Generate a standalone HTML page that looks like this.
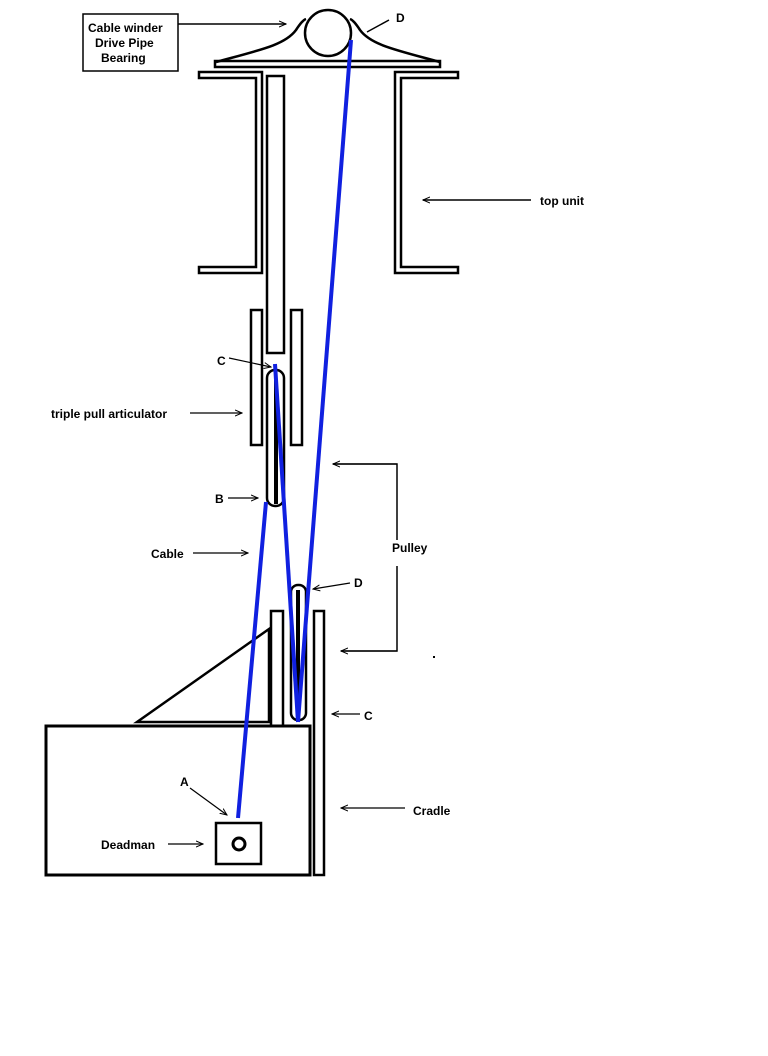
<!DOCTYPE html>
<html><head><meta charset="utf-8"><style>
html,body{margin:0;padding:0;background:#fff;}
svg{display:block;}
text{font-family:"Liberation Sans",Arial,sans-serif;font-weight:bold;font-size:12px;fill:#000;}
</style></head><body>
<svg width="768" height="1056" viewBox="0 0 768 1056" xmlns="http://www.w3.org/2000/svg">
<defs>
<marker id="ah" markerWidth="8" markerHeight="8" refX="7" refY="4" orient="auto" markerUnits="userSpaceOnUse">
<path d="M0,1 L7,4 L0,7" fill="none" stroke="#000" stroke-width="1"/>
</marker>
</defs>
<g fill="none" stroke="#000" stroke-width="2">
<!-- label box -->
<rect x="83" y="14" width="95" height="57" stroke-width="1.5"/>
<line x1="178" y1="24" x2="286" y2="24" stroke-width="1.5" marker-end="url(#ah)"/>
<!-- top pulley -->
<circle cx="328" cy="33" r="23" stroke-width="2.5"/>
<path d="M216,62 C260,50 285,45 296,30 C300,24 303,20 306,19" stroke-width="2.5"/>
<path d="M440,62 C396,50 371,45 360,30 C356,24 353,20 350,19" stroke-width="2.5"/>
<rect x="215" y="61" width="225" height="6" stroke-width="2.5"/>
<line x1="367" y1="32" x2="389" y2="20" stroke-width="1.5"/>
<!-- top unit brackets -->
<path d="M199,72 H262 V273 H199 V267 H256 V78 H199 Z" stroke-width="2.5"/>
<path d="M458,72 H395 V273 H458 V267 H401 V78 H458 Z" stroke-width="2.5"/>
<line x1="423" y1="200" x2="531" y2="200" stroke-width="1.5"/>
<!-- drive pipe -->
<rect x="267" y="76" width="17" height="277" stroke-width="2.5"/>
<!-- articulator rails -->
<rect x="251" y="310" width="11" height="135" stroke-width="2.5"/>
<rect x="291" y="310" width="11" height="135" stroke-width="2.5"/>
<rect x="267" y="370" width="17" height="136" rx="8" stroke-width="2.5"/>
<!-- lower assembly -->
<rect x="291" y="585" width="15" height="135" rx="7" stroke-width="2.5"/>
<rect x="271" y="611" width="12" height="115" stroke-width="2.5"/>
<rect x="314" y="611" width="10" height="264" stroke-width="2.5"/>
<path d="M137,722 L269,629 V722 Z" stroke-width="2.5"/>
<rect x="46" y="726" width="264" height="149" stroke-width="3"/>
<rect x="216" y="823" width="45" height="41" stroke-width="2.5"/>
<circle cx="239" cy="844" r="6" stroke-width="3"/>
<!-- bracket for Pulley -->
<path d="M333,464 H397 V540 M397,566 V651 H341" stroke-width="1.5"/>
</g>
<!-- dark inner cable fills -->
<line x1="276" y1="380" x2="276" y2="504" stroke="#000" stroke-width="4"/>
<line x1="298" y1="590" x2="298" y2="716" stroke="#000" stroke-width="4"/>
<!-- blue cables -->
<g stroke="#1020e0" stroke-width="4" fill="none">
<line x1="351" y1="40" x2="298" y2="722"/>
<line x1="275" y1="364" x2="298" y2="722"/>
<line x1="266" y1="502" x2="238" y2="818"/>
</g>
<!-- arrows -->
<g stroke="#000" stroke-width="1.2" fill="none">
<line x1="424" y1="200" x2="423" y2="200" marker-end="url(#ah)"/>
<line x1="229" y1="358" x2="271" y2="367" marker-end="url(#ah)"/>
<line x1="190" y1="413" x2="242" y2="413" marker-end="url(#ah)"/>
<line x1="228" y1="498" x2="258" y2="498" marker-end="url(#ah)"/>
<line x1="193" y1="553" x2="248" y2="553" marker-end="url(#ah)"/>
<line x1="397" y1="464" x2="333" y2="464" marker-end="url(#ah)"/>
<line x1="397" y1="651" x2="341" y2="651" marker-end="url(#ah)"/>
<line x1="350" y1="583" x2="313" y2="589" marker-end="url(#ah)"/>
<line x1="360" y1="714" x2="332" y2="714" marker-end="url(#ah)"/>
<line x1="190" y1="788" x2="227" y2="815" marker-end="url(#ah)"/>
<line x1="405" y1="808" x2="341" y2="808" marker-end="url(#ah)"/>
<line x1="168" y1="844" x2="203" y2="844" marker-end="url(#ah)"/>
</g>
<!-- labels -->
<text x="88" y="32">Cable winder</text>
<text x="95" y="47">Drive Pipe</text>
<text x="101" y="62">Bearing</text>
<text x="396" y="22">D</text>
<text x="540" y="205">top unit</text>
<text x="217" y="365">C</text>
<text x="51" y="418">triple pull articulator</text>
<text x="215" y="503">B</text>
<text x="151" y="558">Cable</text>
<text x="392" y="552">Pulley</text>
<text x="354" y="587">D</text>
<text x="364" y="720">C</text>
<text x="180" y="786">A</text>
<text x="413" y="815">Cradle</text>
<text x="101" y="849">Deadman</text>
<rect x="433" y="656" width="2" height="2" fill="#000"/>
</svg>
</body></html>
